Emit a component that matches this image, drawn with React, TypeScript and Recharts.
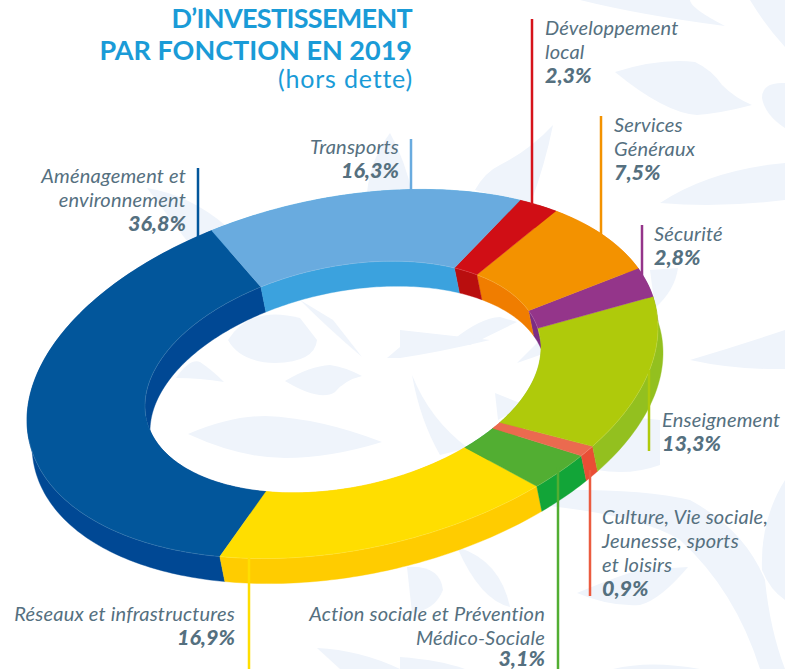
import { PieChart, Pie } from "recharts";

const categories = [
  "Aménagement et environnement",
  "Réseaux et infrastructures",
  "Action sociale et Prévention Médico-Sociale",
  "Culture, Vie sociale, Jeunesse, sports et loisirs",
  "Enseignement",
  "Sécurité",
  "Services Généraux",
  "Développement local",
  "Transports",
];
const shares = [36.8, 16.9, 3.1, 0.9, 13.3, 2.8, 7.5, 2.3, 16.3];
const faceColors = ["#02569b", "#ffde00", "#52ae32", "#eb6a4f", "#afca0b", "#94358a", "#f39200", "#d00e15", "#69abdf"];
const wallColors = ["#004894", "#ffcc00", "#12a538", "#e94e35", "#93c01f", "#7c2d84", "#f07d00", "#b90e0e", "#3ba2de"];

const faces = categories.map((name, i) => ({ name, value: shares[i], fill: faceColors[i] }));
const walls = categories.map((name, i) => ({ name, value: shares[i], fill: wallColors[i] }));

// the ring is a flat pie seen at an angle: this maps pie angles onto the tilted ellipse
const SQUASH = 0.585;
const SKEW = 75.5;
const DEPTH_X = 5;
const DEPTH_Y = 25;
const RAD = Math.PI / 180;

function sampleAngles(from: number, to: number) {
  const steps = Math.max(2, Math.ceil(Math.abs(to - from)));
  return Array.from({ length: steps + 1 }, (_, i) => from + ((to - from) * i) / steps);
}

function toPoint(cx: number, cy: number, r: number, t: number, dx = 0, dy = 0) {
  // the hole sits a little lower and to the right of the outer edge
  const k = r < 250 ? 1 : 0;
  const x = cx + 0.5 * k + r * Math.cos(t * RAD) + dx;
  const y = cy + 3 * k - r * SQUASH * Math.cos((t - SKEW) * RAD) + dy;
  return `${x.toFixed(2)},${y.toFixed(2)}`;
}

function arc(cx: number, cy: number, r: number, from: number, to: number, dx = 0, dy = 0) {
  return sampleAngles(from, to).map((t) => toPoint(cx, cy, r, t, dx, dy));
}

// > 0 where the outer wall shows below the face, < 0 where the inner wall shows
function wallFacing(t: number) {
  return -DEPTH_X * SQUASH * Math.sin((t - SKEW) * RAD) - DEPTH_Y * Math.sin(t * RAD);
}

function FaceShape(props: any) {
  const { cx, cy, innerRadius, outerRadius, startAngle, endAngle, fill } = props;
  const pts = [
    ...arc(cx, cy, outerRadius, startAngle, endAngle),
    ...arc(cx, cy, innerRadius, endAngle, startAngle),
  ];
  const ts = sampleAngles(startAngle, endAngle);
  const outerEdge = ts.filter((t) => wallFacing(t) > 0).map((t) => toPoint(cx, cy, outerRadius, t));
  const innerEdge = ts.filter((t) => wallFacing(t) < 0).map((t) => toPoint(cx, cy, innerRadius, t));
  return (
    <g>
      <path d={`M${pts.join("L")}Z`} fill={fill} stroke={fill} strokeWidth={0.4} />
      {outerEdge.length > 1 && (
        <path d={`M${outerEdge.join("L")}`} fill="none" stroke="#fff" strokeOpacity={0.2} strokeWidth={0.6} />
      )}
      {innerEdge.length > 1 && (
        <path d={`M${innerEdge.join("L")}`} fill="none" stroke="#fff" strokeOpacity={0.2} strokeWidth={0.6} />
      )}
    </g>
  );
}

function WallShape(props: any) {
  const { cx, cy, innerRadius, outerRadius, startAngle, endAngle, fill } = props;
  const strip = (r: number) => [
    ...arc(cx, cy, r, startAngle, endAngle),
    ...arc(cx, cy, r, endAngle, startAngle, DEPTH_X, DEPTH_Y),
  ];
  return (
    <g>
      <path d={`M${strip(outerRadius).join("L")}Z`} fill={fill} stroke={fill} strokeWidth={0.4} />
      <path d={`M${strip(innerRadius).join("L")}Z`} fill={fill} stroke={fill} strokeWidth={0.4} />
    </g>
  );
}

const LEAVES = [
  "M580,0 Q640,15 725,26 Q690,8 690,0Z",
  "M750,0 Q765,25 785,47 L785,0Z",
  "M615,72 Q660,58 695,62 Q712,70 722,85 Q735,98 752,105 Q722,113 697,115 Q665,113 615,72Z",
  "M785,83 Q762,82 762,98 Q765,115 785,128Z",
  "M660,203 Q710,170 785,163 L785,200 Q720,208 660,203Z",
  "M553,125 Q530,150 500,165 Q485,172 475,190 L530,205 Q545,165 553,125Z",
  "M650,270 L678,268 Q675,290 655,308Z",
  "M453,340 Q480,318 500,317 L517,322 Q490,335 470,345Z",
  "M147,188 Q190,195 226,226 L190,245Z",
  "M390,133 Q370,160 367,193 L412,193 Q405,160 390,133Z",
  "M228,340 Q240,362 275,363 Q315,362 317,340 L300,318 Q250,305 228,340Z",
  "M300,300 Q330,330 362,357 L333,320Z",
  "M176,378 Q190,358 200,362 Q212,370 224,382 Q200,378 176,378Z",
  "M285,381 Q310,366 330,365 Q345,367 362,376 Q345,380 335,392 Q320,402 285,381Z",
  "M188,434 Q230,416 265,416 Q320,418 382,442 Q330,458 285,458 Q240,458 188,434Z",
  "M387,358 L400,347 L400,358Z",
  "M400,358 Q440,352 490,340 L400,330Z",
  "M517,363 L540,340 L540,355Z",
  "M412,375 Q430,420 468,448 L440,455 Q420,420 412,375Z",
  "M495,393 L525,405 L498,420Z",
  "M690,360 Q740,345 785,330 L785,369 Q735,370 690,360Z",
  "M597,470 Q630,476 660,465 L660,420 L640,418 L600,460Z",
  "M540,490 Q640,488 690,500 Q745,530 765,580 Q770,630 785,669 L760,669 Q735,590 680,540 Q640,515 540,505Z",
  "M577,593 Q620,575 640,570 L688,567 Q660,600 640,605 Q610,607 577,593Z",
  "M785,480 Q760,520 762,570 Q770,590 785,600Z",
  "M457,547 Q500,560 510,607 Q480,600 457,547Z",
  "M407,567 Q440,565 443,590 Q435,610 412,613Z",
  "M317,648 Q360,650 400,669 L340,669Z",
  "M400,657 Q440,660 465,669 L400,669Z",
  "M613,669 Q650,660 700,669Z",
];

const LEADERS = [
  { x: 198, y1: 168, y2: 240, color: "#02569b" },
  { x: 411, y1: 139, y2: 192, color: "#69abdf" },
  { x: 532, y1: 19, y2: 205, color: "#d6131b" },
  { x: 601, y1: 116, y2: 235, color: "#f39200" },
  { x: 642, y1: 225, y2: 277, color: "#94358a" },
  { x: 649, y1: 370, y2: 451, color: "#afca0b" },
  { x: 590, y1: 470, y2: 596, color: "#eb5b3f" },
  { x: 558, y1: 467, y2: 669, color: "#52ae32" },
  { x: 249, y1: 558, y2: 669, color: "#ffde00" },
];

const LABELS: { x: number; y: number; text: string; end?: boolean; bold?: boolean }[] = [
  { x: 186, y: 183, text: "Aménagement et", end: true },
  { x: 186, y: 207, text: "environnement", end: true },
  { x: 186, y: 231, text: "36,8%", end: true, bold: true },
  { x: 399, y: 154, text: "Transports", end: true },
  { x: 399, y: 178, text: "16,3%", end: true, bold: true },
  { x: 545, y: 35, text: "Développement" },
  { x: 545, y: 59, text: "local" },
  { x: 545, y: 83, text: "2,3%", bold: true },
  { x: 614, y: 132, text: "Services" },
  { x: 614, y: 156, text: "Généraux" },
  { x: 614, y: 180, text: "7,5%", bold: true },
  { x: 654, y: 241, text: "Sécurité" },
  { x: 654, y: 265, text: "2,8%", bold: true },
  { x: 662, y: 427, text: "Enseignement" },
  { x: 662, y: 451, text: "13,3%", bold: true },
  { x: 602, y: 524, text: "Culture, Vie sociale," },
  { x: 602, y: 548, text: "Jeunesse, sports" },
  { x: 602, y: 572, text: "et loisirs" },
  { x: 602, y: 596, text: "0,9%", bold: true },
  { x: 545, y: 621, text: "Action sociale et Prévention", end: true },
  { x: 545, y: 645, text: "Médico-Sociale", end: true },
  { x: 545, y: 666, text: "3,1%", end: true, bold: true },
  { x: 235, y: 621, text: "Réseaux et infrastructures", end: true },
  { x: 235, y: 645, text: "16,9%", end: true, bold: true },
];

const layer = { position: "absolute", left: 0, top: 0 } as const;

export default function App() {
  return (
    <div style={{ position: "absolute", left: 0, top: 0, width: 785, height: 669, overflow: "hidden", background: "#fff" }}>
      <svg width={785} height={669} style={layer}>
        {LEAVES.map((d, i) => (
          <path key={i} d={d} fill="#eff4fb" />
        ))}
      </svg>
      <div style={layer}>
        <PieChart width={785} height={669} margin={{ top: 0, right: 0, bottom: 0, left: 0 }}>
          <Pie
            data={walls}
            dataKey="value"
            cx={342.5}
            cy={374}
            innerRadius={198}
            outerRadius={315.5}
            startAngle={114.5}
            endAngle={474.5}
            stroke="none"
            shape={WallShape}
            isAnimationActive={false}
          />
          <Pie
            data={faces}
            dataKey="value"
            cx={342.5}
            cy={374}
            innerRadius={198}
            outerRadius={315.5}
            startAngle={114.5}
            endAngle={474.5}
            stroke="none"
            shape={FaceShape}
            isAnimationActive={false}
          />
        </PieChart>
      </div>
      <svg width={785} height={669} style={{ ...layer, pointerEvents: "none" }}>
        {LEADERS.map((l) => (
          <line key={l.x} x1={l.x} x2={l.x} y1={l.y1} y2={l.y2} stroke={l.color} strokeWidth={2.5} />
        ))}
        <g fontFamily="Lato" fill="#1a9bd7" textAnchor="end">
          <text x={412} y={28} fontSize={27} fontWeight={700} letterSpacing={-0.7}>D’INVESTISSEMENT</text>
          <text x={412} y={60} fontSize={27} fontWeight={700}>PAR FONCTION EN 2019</text>
          <text x={413} y={88} fontSize={25} fontWeight={400} letterSpacing={0.8}>(hors dette)</text>
        </g>
        <g fontFamily="Lato" fill="#55707f" fontStyle="italic">
          {LABELS.map((l) => (
            <text
              key={l.text}
              x={l.x}
              y={l.y}
              fontSize={l.bold ? 21.5 : 20}
              fontWeight={l.bold ? 900 : 400}
              letterSpacing={l.bold ? 0 : 0.2}
              textAnchor={l.end ? "end" : "start"}
            >
              {l.text}
            </text>
          ))}
        </g>
      </svg>
    </div>
  );
}
